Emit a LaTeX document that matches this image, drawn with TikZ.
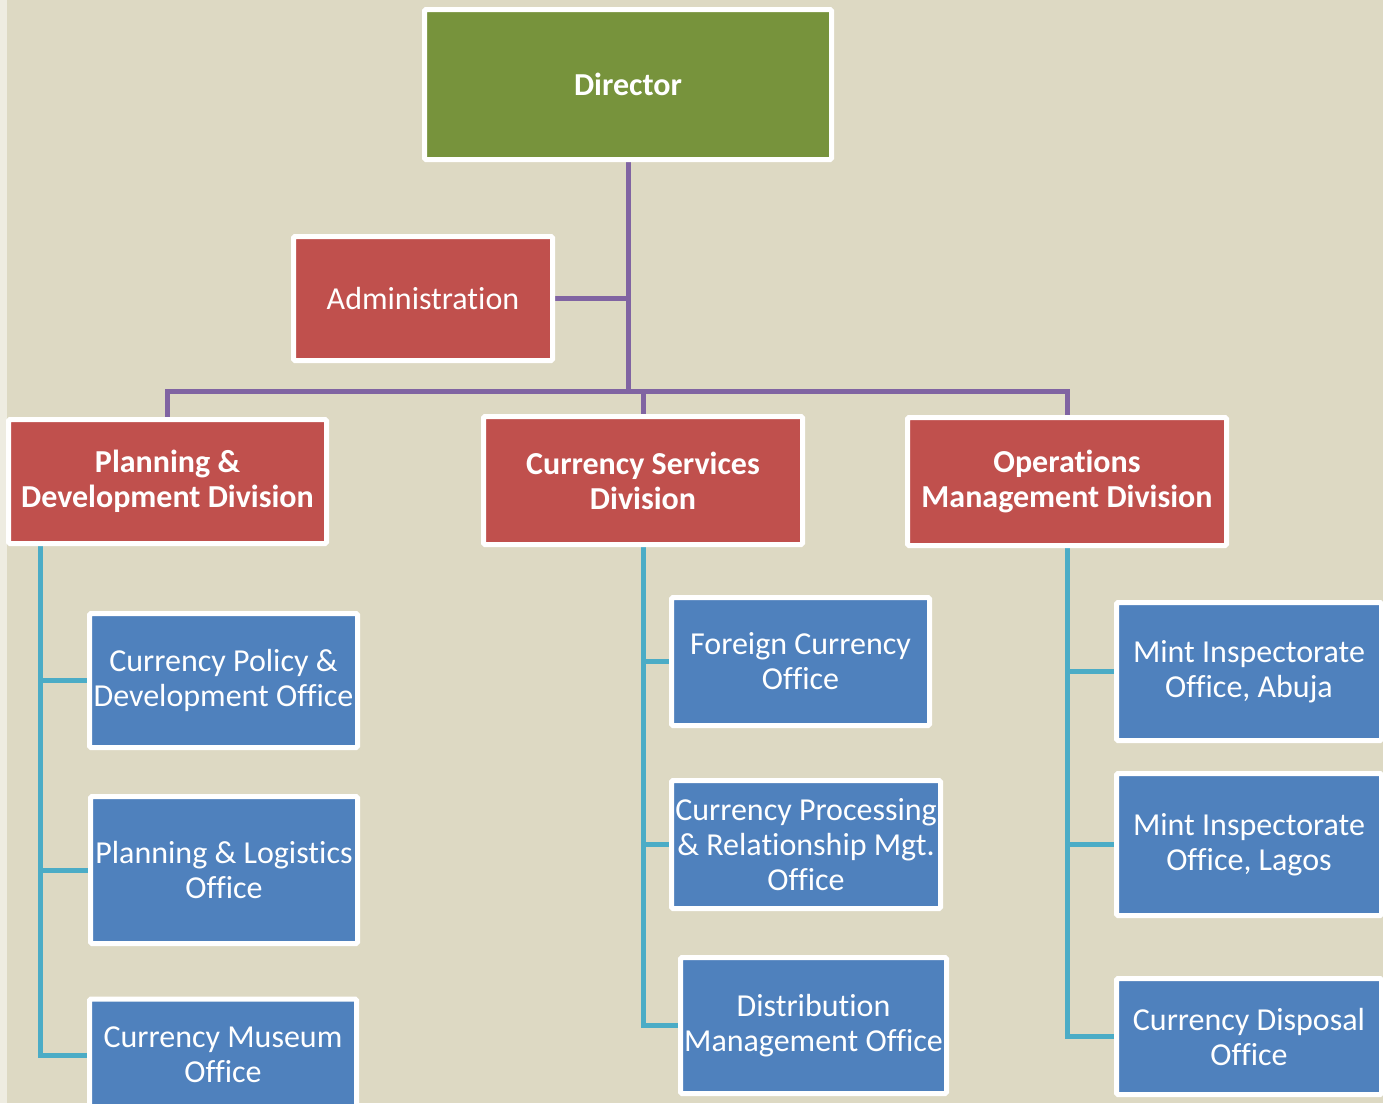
\documentclass[tikz,border=0pt]{standalone}
\usepackage{fontspec}
\setmainfont{Carlito}[Ligatures=NoCommon]
\definecolor{bgtan}{HTML}{DDD9C3}
\definecolor{bgstrip}{HTML}{EEECE1}
\definecolor{dirgreen}{HTML}{77933C}
\definecolor{divred}{HTML}{C0504D}
\definecolor{offblue}{HTML}{4F81BD}
\definecolor{trunkpurple}{HTML}{8064A2}
\definecolor{branchteal}{HTML}{4BACC6}
\pgfdeclarelayer{bg}
\pgfsetlayers{bg,main}
\tikzset{
  orgbox/.style={draw=white, line width=5pt, rounded corners=1.5pt, align=center,
    inner sep=0pt, text=white, font=\fontsize{32}{35}\selectfont},
  dirbox/.style={orgbox, fill=dirgreen, font=\fontsize{32}{35}\selectfont\bfseries},
  divbox/.style={orgbox, fill=divred, font=\fontsize{32}{35}\selectfont\bfseries},
  adminbox/.style={orgbox, fill=divred},
  officebox/.style={orgbox, fill=offblue},
  trunk/.style={draw=trunkpurple, line width=5pt},
  branch/.style={draw=branchteal, line width=5pt}
}
\begin{document}
\begin{tikzpicture}[x=1pt,y=-1pt]
\useasboundingbox (0,0) rectangle (1383,1103);

% top level
\node[dirbox, minimum width=407, minimum height=150] (dir) at (628,84.5) {Director};
\node[adminbox, minimum width=259, minimum height=124] (admin) at (423,298.5) {Administration};

% divisions
\node[divbox, minimum width=318, minimum height=124] (pd) at (167.5,481.5) {Planning \&\\Development Division};
\node[divbox, minimum width=319, minimum height=128] (cs) at (643,480.5) {Currency Services\\Division};
\node[divbox, minimum width=319, minimum height=128] (om) at (1067,481.5) {Operations\\Management Division};

% offices
\node[officebox, minimum width=268, minimum height=134] (cpd) at (223.5,680.5) {Currency Policy \&\\Development Office};
\node[officebox, minimum width=267, minimum height=147] (pl) at (224,870) {Planning \& Logistics\\Office};
\node[officebox, minimum width=267, minimum height=112] (cm) at (223,1055) {Currency Museum\\Office};

\node[officebox, minimum width=258, minimum height=128] (fc) at (800.5,661.5) {Foreign Currency\\Office};
\node[officebox, minimum width=269, minimum height=128] (cp) at (806,844.5) {Currency Processing\\\& Relationship Mgt.\\Office};
\node[officebox, minimum width=266, minimum height=136] (dm) at (813.5,1025.5) {Distribution\\Management Office};

\node[officebox, minimum width=265, minimum height=138] (mia) at (1249,671.5) {Mint Inspectorate\\Office, Abuja};
\node[officebox, minimum width=265, minimum height=142] (mil) at (1249,844.5) {Mint Inspectorate\\Office, Lagos};
\node[officebox, minimum width=265, minimum height=116] (cdo) at (1249,1036.5) {Currency Disposal\\Office};

\begin{pgfonlayer}{bg}
\fill[bgtan] (0,0) rectangle (1383,1103);
\fill[bgstrip] (0,0) rectangle (7,1103);

% purple trunk
\coordinate (bar) at (628,391);
\draw[trunk] (dir.south) -- (bar);
\draw[trunk] (admin.east) -- (admin.east -| dir.south);
\draw[trunk] (pd.north) |- (bar) -| (om.north);
\draw[trunk] (cs.north) -- (cs.north |- bar);

% teal branches
\coordinate (pdspine) at (40,546);
\coordinate (csspine) at (643,547);
\coordinate (omspine) at (1067,548);
\foreach \n in {cpd,pl,cm} \draw[branch] (pdspine) |- (\n.west);
\foreach \n in {fc,cp,dm} \draw[branch] (csspine) |- (\n.west);
\foreach \n in {mia,mil,cdo} \draw[branch] (omspine) |- (\n.west);
\end{pgfonlayer}
\end{tikzpicture}
\end{document}
